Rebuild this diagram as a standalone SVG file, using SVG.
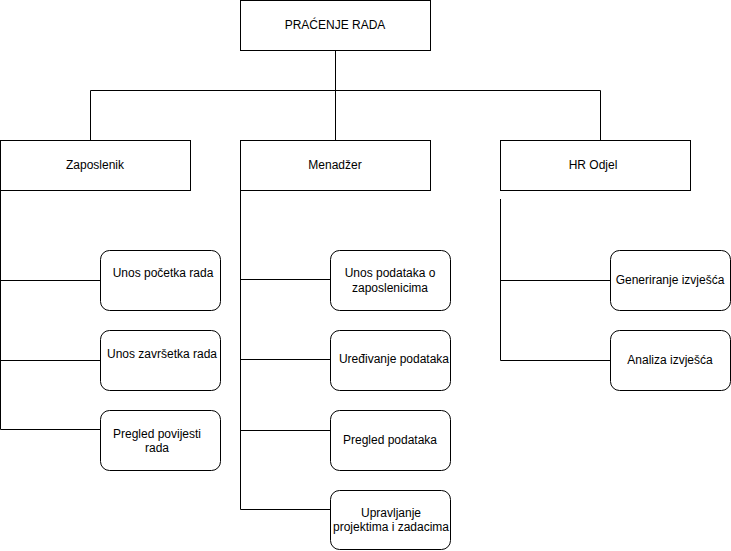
<svg xmlns="http://www.w3.org/2000/svg" width="731" height="551" viewBox="0 0 731 551">
<style>
.box{fill:#fff;stroke:#000;stroke-width:1}
.t{font-family:"Liberation Sans",Arial,Helvetica,sans-serif;font-size:12px;fill:#000;text-anchor:middle;dominant-baseline:central}
.c{fill:none;stroke:#000;stroke-width:1}
</style>
<rect width="731" height="551" fill="#fff"/>
<g id="connectors">
<path class="c" d="M335.5 50V140.5M90.5 90.5H600.5M90.5 90.5V140M600.5 90.5V140"/>
<path class="c" d="M0.5 190V429.5H100M0.5 280.5H100M0.5 360.5H100"/>
<path class="c" d="M240.5 190V509.5H330M240.5 279.5H330M240.5 359.5H330M240.5 430.5H330"/>
<path class="c" d="M500.5 199V360.5H610M500.5 280.5H610"/>
</g>
<g id="pracenje-rada"><rect class="box" x="240.5" y="0.5" width="190" height="50"/><text class="t" x="335" y="25">PRAĆENJE RADA</text></g>
<g id="zaposlenik"><rect class="box" x="0.5" y="140.5" width="190" height="50"/><text class="t" x="95" y="165">Zaposlenik</text></g>
<g id="menadzer"><rect class="box" x="240.5" y="140.5" width="190" height="50"/><text class="t" x="335" y="165">Menadžer</text></g>
<g id="hr-odjel"><rect class="box" x="500.5" y="140.5" width="190" height="50"/><text class="t" x="593" y="165">HR Odjel</text></g>
<g id="unos-pocetka"><rect class="box" x="100.5" y="250.5" width="120" height="60" rx="9"/><text class="t" x="163" y="273">Unos početka rada</text></g>
<g id="unos-zavrsetka"><rect class="box" x="100.5" y="330.5" width="120" height="60" rx="9"/><text class="t" x="162" y="354">Unos završetka rada</text></g>
<g id="pregled-povijesti"><rect class="box" x="100.5" y="410.5" width="120" height="60" rx="9"/><text class="t" x="157" y="434">Pregled povijesti</text><text class="t" x="157" y="448">rada</text></g>
<g id="unos-podataka"><rect class="box" x="330.5" y="250.5" width="120" height="60" rx="9"/><text class="t" x="390" y="273">Unos podataka o</text><text class="t" x="390" y="288">zaposlenicima</text></g>
<g id="uredivanje"><rect class="box" x="330.5" y="330.5" width="120" height="60" rx="9"/><text class="t" x="394" y="359">Uređivanje podataka</text></g>
<g id="pregled-podataka"><rect class="box" x="330.5" y="410.5" width="120" height="60" rx="9"/><text class="t" x="390" y="440">Pregled podataka</text></g>
<g id="upravljanje"><rect class="box" x="330.5" y="490.5" width="120" height="59" rx="9"/><text class="t" x="391" y="513">Upravljanje</text><text class="t" x="391" y="527">projektima i zadacima</text></g>
<g id="generiranje"><rect class="box" x="610.5" y="250.5" width="120" height="60" rx="9"/><text class="t" x="670" y="280">Generiranje izvješća</text></g>
<g id="analiza"><rect class="box" x="610.5" y="330.5" width="120" height="60" rx="9"/><text class="t" x="670" y="360">Analiza izvješća</text></g>
</svg>
